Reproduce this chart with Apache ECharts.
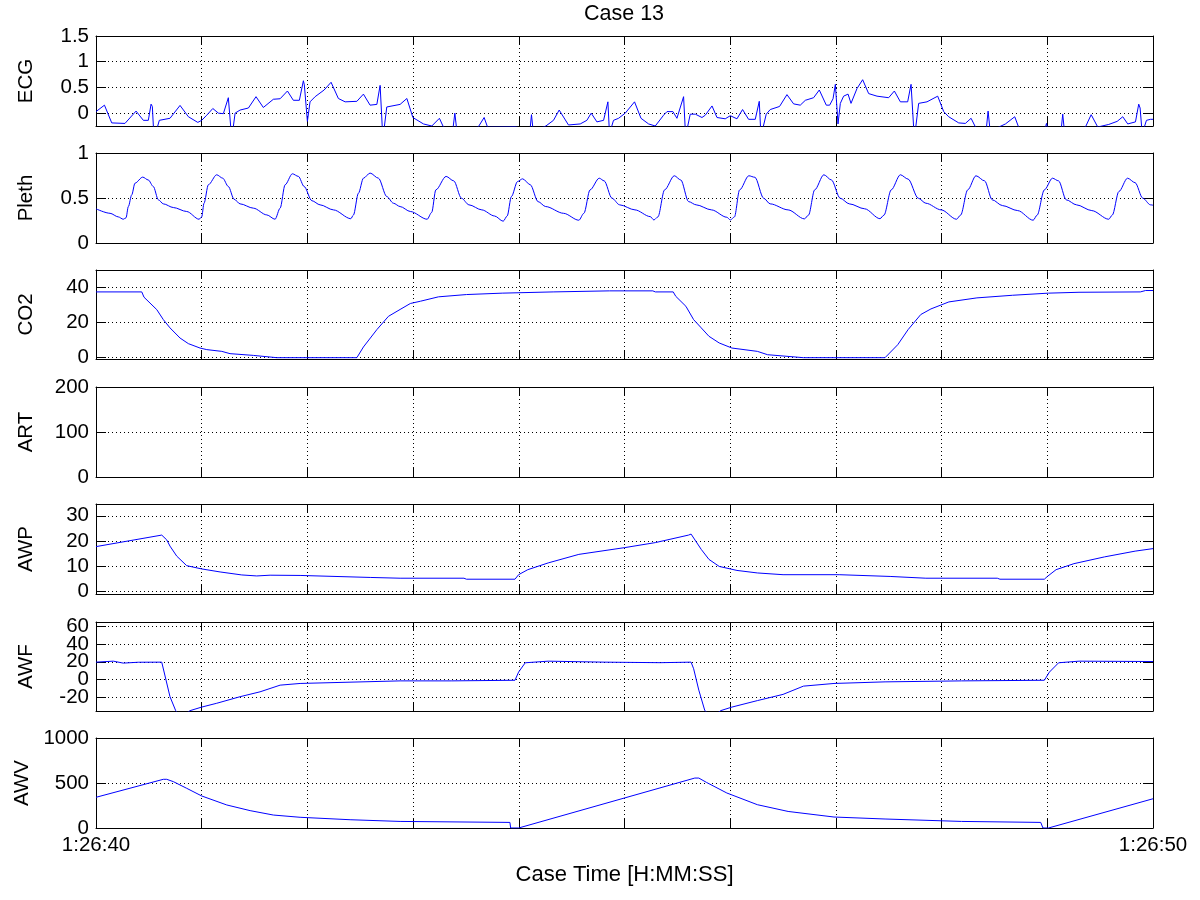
<!DOCTYPE html>
<html>
<head>
<meta charset="utf-8">
<script src="https://cdn.jsdelivr.net/npm/echarts@6/dist/echarts.min.js"></script>
<style>
html,body{margin:0;padding:0;background:#fff;}
#c{width:1200px;height:900px;}
</style>
</head>
<body>
<div id="c"></div>
<script>
// ---------- text ----------
const chartTitle = 'Case 13';
const xAxisTitle = 'Case Time [H:MM:SS]';
const timeTickLabels = ['1:26:40', '1:26:50'];   // labels at t = 0 s and t = 10 s
const panelNames = ['ECG', 'Pleth', 'CO2', 'ART', 'AWP', 'AWF', 'AWV'];

// ---------- data: [seconds after 1:26:40, value] ----------
const ecgPoints = [[0.000,0.03],[0.080,0.155],[0.149,-0.19],[0.274,-0.20],[0.379,0.04],[0.448,-0.14],[0.495,-0.14],[0.521,0.175],[0.533,0.13],[0.549,-0.5],[0.599,-0.14],[0.700,-0.10],[0.795,0.15],[0.874,-0.07],[0.963,-0.18],[1.000,-0.14],[1.048,-0.04],[1.105,0.09],[1.158,0.00],[1.205,-0.01],[1.252,0.30],[1.284,-0.5],[1.316,0.00],[1.363,0.06],[1.442,0.10],[1.514,0.32],[1.583,0.11],[1.678,0.27],[1.742,0.28],[1.811,0.43],[1.867,0.25],[1.924,0.25],[1.962,0.63],[1.971,0.55],[2.000,-0.16],[2.025,0.22],[2.073,0.32],[2.158,0.45],[2.224,0.60],[2.293,0.285],[2.357,0.22],[2.468,0.23],[2.530,0.37],[2.593,0.155],[2.657,0.17],[2.688,0.54],[2.714,-0.5],[2.751,0.12],[2.877,0.17],[2.941,0.285],[2.998,-0.085],[3.098,-0.21],[3.177,-0.25],[3.249,-0.10],[3.287,-0.27],[3.376,-0.32],[3.395,0.00],[3.414,-0.35],[3.616,-0.27],[3.672,-0.085],[3.704,-0.27],[3.966,-0.26],[4.105,-0.35],[4.120,-0.03],[4.136,-0.35],[4.256,-0.25],[4.328,-0.14],[4.382,0.06],[4.470,-0.23],[4.581,-0.21],[4.644,-0.14],[4.685,0.00],[4.739,-0.17],[4.802,-0.14],[4.843,0.22],[4.858,-0.4],[4.896,-0.14],[4.944,-0.10],[5.007,0.00],[5.095,0.22],[5.156,-0.10],[5.228,-0.21],[5.291,-0.25],[5.370,-0.04],[5.402,0.03],[5.458,0.03],[5.496,-0.10],[5.559,0.32],[5.578,-0.45],[5.622,-0.02],[5.670,-0.02],[5.733,-0.085],[5.764,-0.04],[5.828,0.14],[5.875,-0.085],[5.953,-0.11],[6.001,-0.05],[6.064,-0.11],[6.117,0.07],[6.174,-0.12],[6.237,-0.12],[6.275,0.23],[6.291,-0.45],[6.341,-0.02],[6.379,0.07],[6.467,0.13],[6.537,0.36],[6.600,0.18],[6.663,0.155],[6.711,0.25],[6.789,0.30],[6.843,0.45],[6.909,0.155],[6.941,0.155],[6.973,0.28],[6.995,0.56],[7.020,-0.21],[7.042,0.19],[7.073,0.33],[7.115,0.37],[7.143,0.19],[7.200,0.48],[7.253,0.65],[7.310,0.38],[7.389,0.33],[7.499,0.30],[7.553,0.43],[7.610,0.22],[7.679,0.22],[7.711,0.56],[7.742,-0.5],[7.783,0.19],[7.862,0.22],[7.963,0.33],[8.020,0.03],[8.067,-0.07],[8.162,-0.19],[8.225,-0.20],[8.279,-0.10],[8.320,-0.27],[8.421,-0.35],[8.440,0.04],[8.459,-0.35],[8.604,-0.21],[8.692,-0.07],[8.730,-0.28],[8.980,-0.30],[8.992,-0.20],[9.004,-0.30],[9.130,-0.35],[9.146,-0.02],[9.162,-0.35],[9.361,-0.27],[9.415,-0.03],[9.477,-0.27],[9.581,-0.22],[9.661,-0.16],[9.714,-0.07],[9.761,-0.21],[9.834,-0.17],[9.865,0.175],[9.878,0.10],[9.898,-0.4],[9.938,-0.14],[9.976,-0.12],[10.000,-0.12]];

const plethPoints = [[0.000,0.38],[0.133,0.33],[0.211,0.29],[0.258,0.264],[0.284,0.28],[0.306,0.405],[0.338,0.535],[0.369,0.665],[0.442,0.732],[0.495,0.70],[0.542,0.628],[0.590,0.48],[0.637,0.435],[0.732,0.394],[0.858,0.35],[0.975,0.264],[1.000,0.29],[1.022,0.442],[1.063,0.647],[1.142,0.758],[1.199,0.72],[1.252,0.628],[1.306,0.487],[1.363,0.435],[1.489,0.387],[1.616,0.312],[1.694,0.264],[1.742,0.387],[1.789,0.647],[1.858,0.769],[1.915,0.74],[1.969,0.628],[2.042,0.47],[2.120,0.424],[2.246,0.368],[2.411,0.27],[2.435,0.31],[2.483,0.554],[2.530,0.72],[2.593,0.777],[2.672,0.72],[2.751,0.516],[2.814,0.442],[2.877,0.405],[2.974,0.35],[3.133,0.264],[3.176,0.34],[3.215,0.59],[3.312,0.74],[3.385,0.69],[3.457,0.498],[3.529,0.424],[3.650,0.368],[3.771,0.30],[3.852,0.242],[3.890,0.30],[3.930,0.516],[3.988,0.683],[4.036,0.713],[4.109,0.647],[4.182,0.46],[4.254,0.405],[4.423,0.33],[4.568,0.253],[4.616,0.33],[4.674,0.59],[4.761,0.72],[4.808,0.69],[4.881,0.498],[4.954,0.424],[5.099,0.368],[5.244,0.293],[5.278,0.256],[5.316,0.29],[5.379,0.59],[5.471,0.747],[5.533,0.70],[5.606,0.46],[5.678,0.424],[5.823,0.368],[5.968,0.286],[6.002,0.256],[6.040,0.29],[6.089,0.59],[6.176,0.747],[6.234,0.73],[6.316,0.498],[6.378,0.435],[6.548,0.368],[6.702,0.268],[6.741,0.31],[6.799,0.59],[6.886,0.758],[6.958,0.70],[7.040,0.498],[7.127,0.435],[7.272,0.38],[7.417,0.27],[7.455,0.31],[7.523,0.59],[7.610,0.758],[7.683,0.71],[7.779,0.498],[7.851,0.442],[7.996,0.368],[8.141,0.264],[8.180,0.31],[8.247,0.59],[8.325,0.747],[8.407,0.69],[8.479,0.48],[8.575,0.416],[8.720,0.36],[8.866,0.253],[8.904,0.31],[8.972,0.59],[9.049,0.72],[9.107,0.69],[9.179,0.48],[9.276,0.424],[9.421,0.36],[9.581,0.264],[9.615,0.31],[9.677,0.572],[9.759,0.72],[9.831,0.67],[9.903,0.498],[9.976,0.424],[10.000,0.42]];

const co2Points = [[0.000,37.5],[0.433,37.5],[0.454,34.5],[0.575,27.4],[0.637,21.7],[0.700,17],[0.795,11.2],[0.874,8],[0.984,5.5],[1.048,4.6],[1.190,3.6],[1.268,2.3],[1.489,1.3],[1.710,0],[2.468,0],[2.530,6.1],[2.657,16],[2.767,23.6],[2.877,27.5],[2.974,30.9],[3.070,32.2],[3.240,34.7],[3.505,36],[3.843,36.8],[4.325,37.5],[4.857,38.1],[5.268,38.1],[5.292,37.5],[5.461,37.5],[5.485,35],[5.581,29.3],[5.654,21.7],[5.726,17],[5.799,12.2],[5.896,8.4],[6.016,5.5],[6.257,3.6],[6.354,1.7],[6.693,0],[7.465,0],[7.585,7.4],[7.683,16],[7.803,24.6],[7.899,27.8],[8.069,31.8],[8.334,34.1],[8.672,35.6],[9.011,36.8],[9.300,37.3],[9.880,37.5],[9.930,38.3],[10.000,38.3]];

const artPoints = [];   // no ART signal in this window

const awpPoints = [[0.000,17.7],[0.622,22.3],[0.637,21.9],[0.669,20.4],[0.700,17.9],[0.764,13.9],[0.858,10.1],[1.000,8.8],[1.174,7.6],[1.379,6.4],[1.521,6.0],[1.647,6.3],[1.931,6.2],[2.600,5.4],[2.877,5.1],[3.481,5.1],[3.505,4.7],[3.964,4.7],[3.998,6.5],[4.085,8.5],[4.278,11.2],[4.568,14.6],[5.002,17.3],[5.292,19.3],[5.606,22.3],[5.630,22.7],[5.726,16.6],[5.799,12.6],[5.896,9.8],[6.064,8.2],[6.257,7.2],[6.500,6.5],[7.031,6.5],[7.513,5.8],[7.851,5.1],[8.527,5.1],[8.552,4.7],[8.972,4.7],[9.001,5.8],[9.083,8.5],[9.252,10.9],[9.541,13.6],[9.831,15.9],[10.000,16.9]];

const awfPoints = [[0.000,19.6],[0.164,20.7],[0.258,18.5],[0.400,19.5],[0.622,19.6],[0.637,19],[0.700,-19.3],[0.754,-35],[0.805,-42],[0.890,-35],[1.000,-31],[1.142,-26.7],[1.363,-19.3],[1.552,-13.8],[1.742,-6.3],[1.931,-4.4],[2.877,-1.5],[3.360,-1.5],[3.964,-0.8],[3.998,8.4],[4.061,18.9],[4.278,20.7],[4.808,19.6],[5.340,19],[5.630,19.6],[5.654,12.2],[5.703,-11.9],[5.760,-35],[5.830,-42],[5.910,-35],[6.016,-31],[6.257,-23.7],[6.500,-16.7],[6.693,-7.4],[6.982,-4.4],[7.465,-2.6],[8.189,-1.5],[8.972,-0.8],[9.020,8.4],[9.107,18.9],[9.300,20.7],[10.000,20.3]];

const awvPoints = [[0.000,341],[0.637,541],[0.669,541],[0.732,515],[0.858,441],[1.000,356],[1.237,256],[1.458,193],[1.678,144],[1.931,119],[2.404,92],[2.877,73],[3.916,62],[3.923,0],[3.998,0],[5.665,555],[5.703,555],[5.775,507],[5.968,389],[6.257,259],[6.548,184],[6.982,122],[7.465,100],[8.189,73],[8.938,62],[8.959,0],[9.011,0],[10.000,325]];

const panelData = [ecgPoints, plethPoints, co2Points, artPoints, awpPoints, awfPoints, awvPoints];

// ---------- layout (pixels / axis ranges / styling) ----------
const panelLayout = [
  {top: 36,  height: 90, min: -0.25, max: 1.5,  step: 0.5,  smooth: false},
  {top: 153, height: 90, min: 0,     max: 1,    step: 0.5,  smooth: 0.3},
  {top: 270, height: 89, min: -0.75, max: 50,   step: 20,   smooth: false},
  {top: 387, height: 90, min: 0,     max: 200,  step: 100,  smooth: false},
  {top: 504, height: 90, min: -1.2,  max: 34.7, step: 10,   smooth: false},
  {top: 622, height: 89, min: -35.4, max: 64.8, step: 20,   smooth: false},
  {top: 738, height: 90, min: 0,     max: 1000, step: 500,  smooth: false}
];
const plotLeft = 96, plotRight = 47;
const FONT = 'Liberation Sans, Arial, Helvetica, sans-serif';
const TICK_FS = 20.5, NAME_FS = 20.5, XTITLE_FS = 22, TITLE_FS = 21.5;
const black = '#000';
const dotted = {color: black, width: 1, type: [1, 3]};

const grids = [], xAxes = [], yAxes = [], series = [];
const last = panelLayout.length - 1;

panelLayout.forEach((p, i) => {
  grids.push({left: plotLeft, right: plotRight, top: p.top, height: p.height, containLabel: false});
  // bottom x axis
  xAxes.push({
    type: 'value', gridIndex: i, position: 'bottom', min: 0, max: 10, interval: 1,
    axisLine: {show: true, onZero: false, lineStyle: {color: black, width: 1}},
    axisTick: {show: true, inside: true, length: 9, lineStyle: {color: black, width: 1}},
    splitLine: {show: true, lineStyle: dotted},
    axisLabel: {
      show: i === last, margin: 7, fontSize: TICK_FS, fontFamily: FONT, color: black,
      showMinLabel: true, showMaxLabel: true,
      formatter: v => Math.abs(v) < 1e-9 ? timeTickLabels[0] : (Math.abs(v - 10) < 1e-9 ? timeTickLabels[1] : '')
    },
    name: i === last ? xAxisTitle : '', nameLocation: 'middle', nameGap: 36,
    nameTextStyle: {fontSize: XTITLE_FS, fontFamily: FONT, color: black}
  });
  // top x axis (ticks only)
  xAxes.push({
    type: 'value', gridIndex: i, position: 'top', min: 0, max: 10, interval: 1,
    axisLine: {show: true, onZero: false, lineStyle: {color: black, width: 1}},
    axisTick: {show: true, inside: true, length: 9, lineStyle: {color: black, width: 1}},
    splitLine: {show: false}, axisLabel: {show: false}
  });
  const step = p.step;
  // left y axis
  yAxes.push({
    type: 'value', gridIndex: i, position: 'left', min: p.min, max: p.max,
    minInterval: step, maxInterval: step,
    axisLine: {show: true, onZero: false, lineStyle: {color: black, width: 1}},
    axisTick: {show: true, inside: true, length: 10, lineStyle: {color: black, width: 1}},
    splitLine: {show: true, lineStyle: dotted},
    axisLabel: {
      show: true, margin: 7, fontSize: TICK_FS, fontFamily: FONT, color: black,
      formatter: v => {
        const k = v / step;
        return Math.abs(k - Math.round(k)) < 1e-6 ? String(+(+v).toFixed(2)) : '';
      }
    },
    name: panelNames[i], nameLocation: 'middle', nameRotate: 90, nameGap: 59,
    nameTextStyle: {fontSize: NAME_FS, fontFamily: FONT, color: black}
  });
  // right y axis (ticks only)
  yAxes.push({
    type: 'value', gridIndex: i, position: 'right', min: p.min, max: p.max,
    minInterval: step, maxInterval: step,
    axisLine: {show: true, onZero: false, lineStyle: {color: black, width: 1}},
    axisTick: {show: true, inside: true, length: 10, lineStyle: {color: black, width: 1}},
    splitLine: {show: false}, axisLabel: {show: false}
  });
  series.push({
    type: 'line', name: panelNames[i], xAxisIndex: 2 * i, yAxisIndex: 2 * i,
    data: panelData[i], showSymbol: false, symbol: 'none',
    smooth: p.smooth, smoothMonotone: 'x', clip: true,
    lineStyle: {color: '#0000ff', width: 1}, animation: false
  });
});

const chart = echarts.init(document.getElementById('c'), null, {renderer: 'canvas'});
chart.setOption({
  backgroundColor: '#fff',
  animation: false,
  title: {
    text: chartTitle, left: 624, top: 3, textAlign: 'center', padding: 0,
    textStyle: {fontSize: TITLE_FS, fontWeight: 'normal', fontFamily: FONT, color: black}
  },
  grid: grids,
  xAxis: xAxes,
  yAxis: yAxes,
  series: series
});
</script>
</body>
</html>
